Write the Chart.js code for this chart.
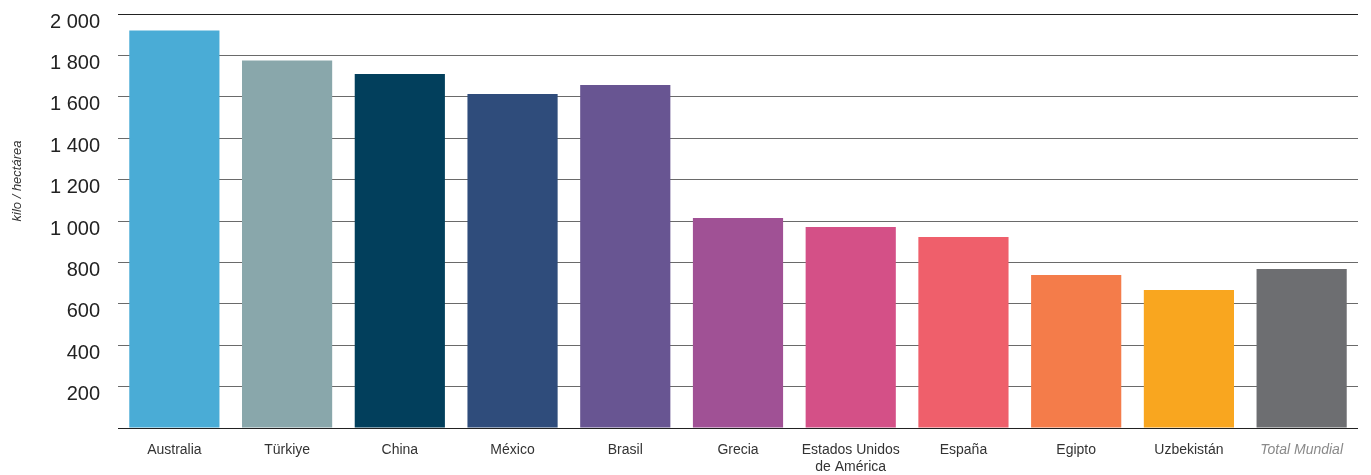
<!DOCTYPE html>
<html>
<head>
<meta charset="utf-8">
<script src="https://cdn.jsdelivr.net/npm/chart.js@4/dist/chart.umd.min.js"></script>
<style>
    html, body { margin: 0; padding: 0; background: #fff; }
    #wrap { width: 1371px; height: 475px; position: relative; }
</style>
</head>
<body>
<div id="wrap"><canvas id="yieldChart"></canvas></div>
<script>
// Rendimiento de algodón por país (kilo / hectárea)
const countries = ['Australia', 'Türkiye', 'China', 'México', 'Brasil', 'Grecia',
    ['Estados Unidos', 'de América'], 'España', 'Egipto', 'Uzbekistán', 'Total Mundial'];
const yieldValues = [1920, 1775, 1710, 1613, 1657, 1014, 971, 923, 739, 667, 768];
const barColors = ['#4aacd6', '#89a7ab', '#023f5c', '#2f4c7b', '#685592', '#a05195',
    '#d45087', '#ef5f6b', '#f47c4a', '#f9a61f', '#6d6e71'];
const yTicks = [0, 200, 400, 600, 800, 1000, 1200, 1400, 1600, 1800, 2000];
const yTitle = 'kilo / hectárea';

// thousands separated with a space, like "1 800"
function fmt(v) {
    return String(v).replace(/\B(?=(\d{3})+(?!\d))/g, ' ');
}

// y axis title sits a bit above the middle in the original
const yTitlePlugin = {
    id: 'yTitle',
    afterDraw(chart) {
        const c = chart.ctx;
        c.save();
        c.translate(17, 181);
        c.rotate(-Math.PI / 2);
        c.font = "italic 13px 'Liberation Sans', Arial, sans-serif";
        c.fillStyle = '#333';
        c.textAlign = 'center';
        c.textBaseline = 'middle';
        c.fillText(yTitle, 0, 0);
        c.restore();
    }
};

Chart.defaults.font.family = "'Liberation Sans', Arial, sans-serif";

new Chart(document.getElementById('yieldChart'), {
    type: 'bar',
    data: {
        labels: countries,
        datasets: [{
            data: yieldValues,
            backgroundColor: barColors,
            borderWidth: 0,
            barPercentage: 0.8,
            categoryPercentage: 1
        }]
    },
    options: {
        responsive: true,
        maintainAspectRatio: false,
        animation: false,
        layout: { padding: { top: 14, right: 13, left: 2, bottom: 0 } },
        plugins: {
            legend: { display: false },
            tooltip: { enabled: false }
        },
        scales: {
            x: {
                grid: { display: false },
                border: { display: false },
                afterFit(scale) { scale.height = 47; },
                ticks: {
                    padding: 6,
                    maxRotation: 0,
                    autoSkip: false,
                    color: ctx => ctx.index === countries.length - 1 ? '#8a8a8a' : '#333',
                    font: ctx => ({
                        size: 14,
                        style: ctx.index === countries.length - 1 ? 'italic' : 'normal',
                        lineHeight: 1.2
                    })
                }
            },
            y: {
                min: 0,
                max: 2000,
                afterFit(scale) {
                    scale.width = 116;
                    // don't let the tick labels push the plot area down
                    scale.paddingTop = 0;
                    scale.paddingBottom = 0;
                },
                afterBuildTicks(scale) {
                    scale.ticks = yTicks.map(v => ({ value: v }));
                },
                border: { display: false },
                grid: {
                    drawTicks: false,
                    lineWidth: 1,
                    color: ctx => (ctx.tick && (ctx.tick.value === 0 || ctx.tick.value === 2000)) ? '#222' : '#6a6a6a'
                },
                ticks: {
                    padding: 18,
                    labelOffset: 8,
                    color: '#222',
                    font: { size: 20 },
                    callback: v => v === 0 ? '' : fmt(v)
                }
            }
        }
    },
    plugins: [yTitlePlugin]
});
</script>
</body>
</html>
